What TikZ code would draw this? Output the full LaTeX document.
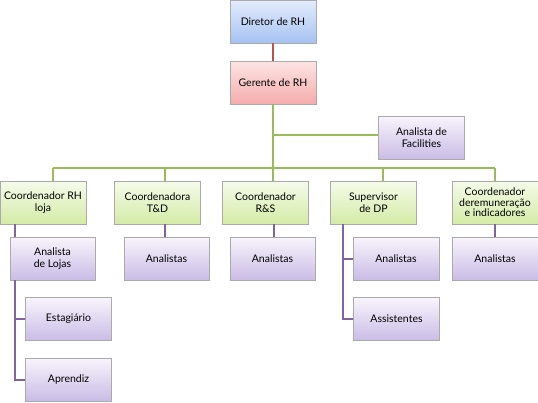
\documentclass[tikz,border=0pt]{standalone}
\usepackage{fontspec}
\setmainfont{Lato}
\definecolor{rhblueT}{RGB}{228,236,252}
\definecolor{rhblueB}{RGB}{166,194,242}
\definecolor{rhpinkT}{RGB}{253,228,228}
\definecolor{rhpinkB}{RGB}{245,172,172}
\definecolor{rhgreenT}{RGB}{245,251,234}
\definecolor{rhgreenB}{RGB}{212,235,166}
\definecolor{rhlilacT}{RGB}{248,244,252}
\definecolor{rhlilacB}{RGB}{202,188,230}
\definecolor{rhborder}{RGB}{170,170,170}
\definecolor{rhred}{RGB}{192,80,77}
\definecolor{rhgreen}{RGB}{155,187,89}
\definecolor{rhpurple}{RGB}{128,100,162}

\begin{document}
\begin{tikzpicture}[x=1pt,y=-1pt, %one unit is one pixel of the chart, y runs downwards
  box/.style={draw=rhborder,line width=0.8pt,minimum width=86pt,minimum height=43pt,
    align=center,inner sep=1pt,font=\fontsize{10.5}{12}\selectfont},
  bluebox/.style={box,top color=rhblueT,bottom color=rhblueB},
  pinkbox/.style={box,top color=rhpinkT,bottom color=rhpinkB},
  greenbox/.style={box,top color=rhgreenT,bottom color=rhgreenB},
  lilacbox/.style={box,top color=rhlilacT,bottom color=rhlilacB},
  redline/.style={draw=rhred,line width=2pt},
  greenline/.style={draw=rhgreen,line width=2pt},
  purpleline/.style={draw=rhpurple,line width=2pt}]
\useasboundingbox (0,0) rectangle (538,402); %Chart size

%Joints of the green tree
\coordinate (facjoint) at (273,135);
\coordinate (barL) at (53,168);
\coordinate (barR) at (495,168);

%Top of the chart
\node[bluebox] (dir) at (273,21.5) {Diretor de RH};
\node[pinkbox] (ger) at (273,82.5) {Gerente de RH};
\node[lilacbox] (fac) at (421.5,137.5) {Analista de\\Facilities};

%Coordinators
\node[greenbox] (crh) at (43,202.5) {Coordenador RH\\loja};
\node[greenbox] (ctd) at (157.5,202.5) {Coordenadora\\T\&D};
\node[greenbox] (crs) at (265.5,202.5) {Coordenador\\R\&S};
\node[greenbox] (sdp) at (373.5,202.5) {Supervisor\\de DP};
\node[greenbox,font=\fontsize{10.5}{10.5}\selectfont] (crem) at (495,202.5) {Coordenador\\deremuneração\\e indicadores};

%Staff
\node[lilacbox,minimum width=85pt] (alj) at (52.5,258.5) {Analista\\de Lojas};
\node[lilacbox,minimum width=85pt] (atd) at (166.5,258.5) {Analistas};
\node[lilacbox,minimum width=85pt] (ars) at (272.5,258.5) {Analistas};
\node[lilacbox] (adp) at (396,258.5) {Analistas};
\node[lilacbox] (arem) at (495,258.5) {Analistas};
\node[lilacbox] (ass) at (396.5,319) {Assistentes};
\node[lilacbox] (est) at (68.5,319) {Estagiário};
\node[lilacbox] (apr) at (68.5,379.5) {Aprendiz};

%Red link
\path[redline] (dir.south) -- (ger.north);

%Green tree
\path[greenline] (ger.south) -- (ger.south |- crs.north);
\path[greenline] (facjoint) -- (fac.west |- facjoint);
\path[greenline] (barL) -- (barR);
\path[greenline] (barL) -- (barL |- crh.north);
\path[greenline] ([xshift=7.5pt]ctd.north |- barL) -- ([xshift=7.5pt]ctd.north);
\path[greenline] ([xshift=9.5pt]sdp.north |- barL) -- ([xshift=9.5pt]sdp.north);
\path[greenline] (barR) -- (crem.north);

%Purple links
\path[purpleline] ([xshift=-28pt]crh.south) -- ([xshift=-28pt]crh.south |- alj.north);
\path[purpleline] ([xshift=-37.5pt]alj.south) |- (est.west);
\path[purpleline] ([xshift=-37.5pt]alj.south) |- (apr.west);
\path[purpleline] ([xshift=7.5pt]ctd.south) -- ([xshift=7.5pt]ctd.south |- atd.north);
\path[purpleline] ([xshift=8pt]crs.south) -- ([xshift=8pt]crs.south |- ars.north);
\path[purpleline] ([xshift=-30.5pt]sdp.south) |- (adp.west);
\path[purpleline] ([xshift=-30.5pt]sdp.south) |- (ass.west);
\path[purpleline] (crem.south) -- (arem.north);
\end{tikzpicture}
\end{document}
